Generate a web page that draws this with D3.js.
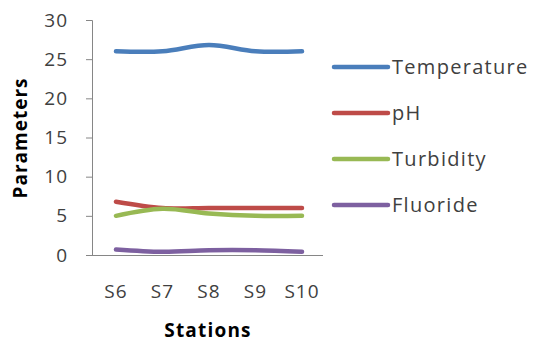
<!DOCTYPE html>
<html>
<head>
<meta charset="utf-8">
<script src="https://cdn.jsdelivr.net/npm/d3@7"></script>
<style>
  body { margin: 0; background: #fff; }
  text { font-family: "Open Sans", sans-serif; }
</style>
</head>
<body>
<div id="chart"></div>
<script>
var stations = ["S6", "S7", "S8", "S9", "S10"];
var temperature = [26, 26, 26.8, 26, 26];
var ph = [6.8, 6.0, 6.0, 6.0, 6.0];
var turbidity = [5.0, 5.9, 5.3, 5.0, 5.0];
var fluoride = [0.7, 0.4, 0.6, 0.6, 0.4];
var seriesNames = ["Temperature", "pH", "Turbidity", "Fluoride"];
var seriesColors = ["#4a7ebb", "#be4b48", "#98b954", "#7d60a0"];
var yTicks = [0, 5, 10, 15, 20, 25, 30];

var w = 538;
var h = 343;

var series = [temperature, ph, turbidity, fluoride].map(function (vals, i) {
  return { name: seriesNames[i], color: seriesColors[i], values: vals };
});

var svg = d3.select("#chart")
  .append("svg")
  .attr("width", w)
  .attr("height", h);

var xScale = d3.scalePoint()
  .domain(stations)
  .range([116, 302]);

var yScale = d3.scaleLinear()
  .domain([0, 30])
  .range([255, 20]);

// axes
var yAxis = d3.axisLeft(yScale).tickValues(yTicks).tickSize(6).tickPadding(18);
var gy = svg.append("g")
  .attr("transform", "translate(92,0)")
  .call(yAxis);
gy.select(".domain").attr("stroke", "#868686").attr("d", "M-6,20.5H0.5V255.5");
gy.selectAll(".tick line").attr("stroke", "#868686");
gy.selectAll(".tick text")
  .attr("fill", "#404040")
  .style("font-size", "19px")
  .style("letter-spacing", "1px");

svg.append("line")
  .attr("x1", 86).attr("x2", 323)
  .attr("y1", 255.5).attr("y2", 255.5)
  .attr("stroke", "#868686");

svg.append("g")
  .selectAll("text")
  .data(stations)
  .join("text")
  .attr("x", function (d) { return xScale(d); })
  .attr("y", 298)
  .attr("text-anchor", "middle")
  .attr("fill", "#404040")
  .style("font-size", "19px")
  .style("letter-spacing", "1px")
  .text(function (d) { return d; });

// axis titles
svg.append("text")
  .attr("x", 208)
  .attr("y", 337)
  .attr("text-anchor", "middle")
  .attr("font-weight", "bold")
  .style("font-size", "19px")
  .style("letter-spacing", "1.2px")
  .text("Stations");

svg.append("text")
  .attr("transform", "translate(27,138) rotate(-90)")
  .attr("text-anchor", "middle")
  .attr("font-weight", "bold")
  .style("font-size", "19px")
  .style("letter-spacing", "1px")
  .text("Parameters");

// lines
var line = d3.line()
  .x(function (d, i) { return xScale(stations[i]); })
  .y(function (d) { return yScale(d); })
  .curve(d3.curveCatmullRom.alpha(0.5));

svg.append("g")
  .selectAll("path")
  .data(series)
  .join("path")
  .attr("d", function (d) { return line(d.values); })
  .attr("fill", "none")
  .attr("stroke", function (d) { return d.color; })
  .attr("stroke-width", 4.5)
  .attr("stroke-linecap", "round");

// legend
var legend = svg.append("g")
  .selectAll("g")
  .data(series)
  .join("g")
  .attr("transform", function (d, i) { return "translate(334," + (67 + i * 46) + ")"; });

legend.append("line")
  .attr("x1", 0).attr("x2", 54)
  .attr("stroke", function (d) { return d.color; })
  .attr("stroke-width", 4.5)
  .attr("stroke-linecap", "round");

legend.append("text")
  .attr("x", 58)
  .attr("dy", "0.35em")
  .attr("fill", "#404040")
  .style("font-size", "20px")
  .style("letter-spacing", "1.3px")
  .text(function (d) { return d.name; });
</script>
</body>
</html>
